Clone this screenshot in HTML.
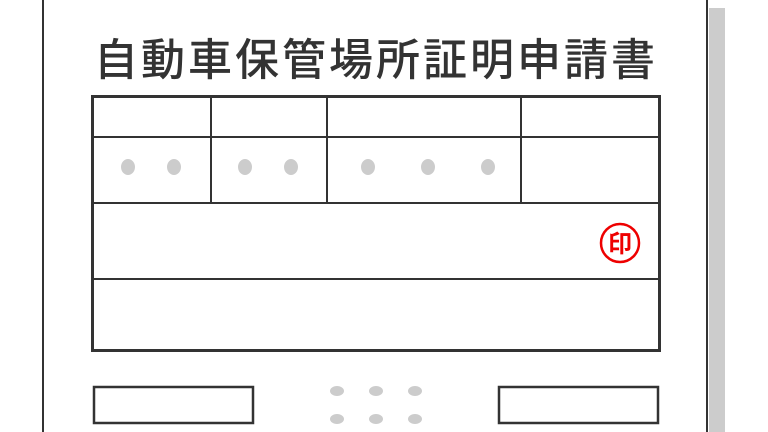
<!DOCTYPE html>
<html><head><meta charset="utf-8"><style>
html,body{margin:0;padding:0;background:#fff;width:768px;height:432px;overflow:hidden}
</style></head><body>
<svg width="768" height="432" xmlns="http://www.w3.org/2000/svg">
<rect x="709" y="8" width="16" height="430" fill="#cccccc"/>
<rect x="43" y="-5" width="664" height="450" fill="#fff" stroke="#333" stroke-width="2"/>
<text x="376" y="75" text-anchor="middle" font-family="'Noto Sans CJK JP','WenQuanYi Zen Hei',sans-serif" font-size="44" font-weight="500" letter-spacing="3" fill="#333">自動車保管場所証明申請書</text>
<g stroke="#333" fill="none">
<rect x="92.5" y="96.5" width="567" height="254" stroke-width="3"/>
<line x1="92" y1="137" x2="660" y2="137" stroke-width="2"/>
<line x1="92" y1="203" x2="660" y2="203" stroke-width="2"/>
<line x1="92" y1="279" x2="660" y2="279" stroke-width="2"/>
<line x1="211" y1="96" x2="211" y2="203" stroke-width="2"/>
<line x1="327" y1="96" x2="327" y2="203" stroke-width="2"/>
<line x1="521" y1="96" x2="521" y2="203" stroke-width="2"/>
<rect x="94" y="387" width="159" height="36" stroke-width="2.5"/>
<rect x="499" y="387" width="159" height="36" stroke-width="2.5"/>
</g>
<g fill="#cccccc">
<ellipse cx="128" cy="167" rx="7" ry="8"/><ellipse cx="174" cy="167" rx="7" ry="8"/>
<ellipse cx="245" cy="167" rx="7" ry="8"/><ellipse cx="291" cy="167" rx="7" ry="8"/>
<ellipse cx="368" cy="167" rx="7" ry="8"/><ellipse cx="428" cy="167" rx="7" ry="8"/><ellipse cx="488" cy="167" rx="7" ry="8"/>
<ellipse cx="337" cy="391" rx="7" ry="5"/><ellipse cx="376" cy="391" rx="7" ry="5"/><ellipse cx="415" cy="391" rx="7" ry="5"/>
<ellipse cx="337" cy="419" rx="7" ry="5"/><ellipse cx="376" cy="419" rx="7" ry="5"/><ellipse cx="415" cy="419" rx="7" ry="5"/>
</g>
<circle cx="620" cy="243" r="19" fill="none" stroke="#ee0000" stroke-width="2.5"/>
<text x="620" y="252" text-anchor="middle" font-family="'Noto Sans CJK JP',sans-serif" font-size="24" font-weight="bold" fill="#ee0000">印</text>
</svg>
</body></html>
